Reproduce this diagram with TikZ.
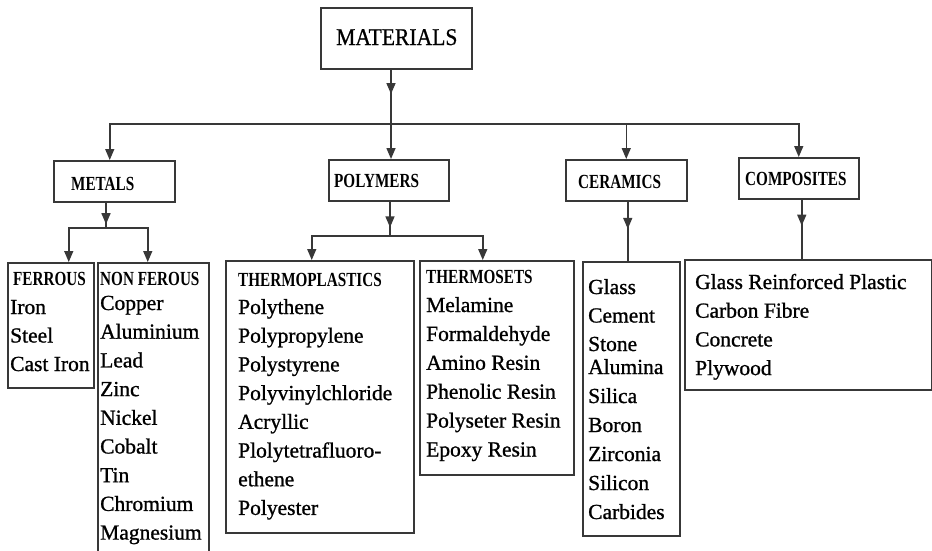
\documentclass[tikz,border=0pt]{standalone}
\usepackage{fontspec}
\setmainfont{Liberation Serif}
\newfontface\hdrface[FakeStretch=0.76]{Liberation Serif Bold}
\newfontface\topface[FakeStretch=0.9, FakeBold=0.8]{Liberation Serif}
\newfontface\itemface[FakeBold=1.0]{Liberation Serif}
\usetikzlibrary{arrows.meta,decorations.markings}
\definecolor{lineclr}{gray}{0.22}

\tikzset{
  ht/.tip={Triangle[width=9pt,length=11pt]},
  box/.style={draw=lineclr, line width=1.5pt, rectangle, inner sep=0pt, anchor=north west},
  conn/.style={draw=lineclr, line width=1.5pt},
  midarrow/.style={postaction={decorate},
    decoration={markings, mark=at position #1 with {\arrow[lineclr]{ht}}}},
  toptext/.style={anchor=base west, inner sep=0pt, font=\topface\fontsize{24}{28}\selectfont},
  hdr/.style={anchor=base west, inner sep=0pt, font=\hdrface\fontsize{20}{24}\selectfont},
  item/.style={anchor=base west, inner sep=0pt, font=\itemface\fontsize{21.5}{26}\selectfont},
}

\begin{document}
\begin{tikzpicture}[x=1pt, y=-1pt]
\useasboundingbox (0,0) rectangle (932,550);

% ---- boxes ----
\node[box, minimum width=151pt, minimum height=61pt] (mat) at (320,7) {};
\node[box, minimum width=121pt, minimum height=41pt] (metals) at (53,160) {};
\node[box, minimum width=120pt, minimum height=41pt] (polymers) at (328,159) {};
\node[box, minimum width=121pt, minimum height=41pt] (ceramics) at (565,159) {};
\node[box, minimum width=120pt, minimum height=41pt] (composites) at (738,157) {};

\node[box, minimum width=86pt, minimum height=125pt] (ferrous) at (7,262) {};
\node[box, minimum width=111pt, minimum height=300pt] (nonferrous) at (97,262) {};
\node[box, minimum width=188pt, minimum height=272pt] (thermoplastics) at (225,260) {};
\node[box, minimum width=154pt, minimum height=214pt] (thermosets) at (419,260) {};
\node[box, minimum width=97pt, minimum height=274pt] (ceramlist) at (582,261) {};
\node[box, minimum width=247pt, minimum height=130pt] (complist) at (684,259) {};

% ---- headings ----
\node[toptext] (mat-t) at (336,45) {MATERIALS};
\node[hdr] (metals-t) at (71,190) {METALS};
\node[hdr] (polymers-t) at (334,187) {POLYMERS};
\node[hdr] (ceramics-t) at (578,188) {CERAMICS};
\node[hdr] (composites-t) at (745,185) {COMPOSITES};
\node[hdr] (ferrous-t) at (13,285) {FERROUS};
\node[hdr] (nonferrous-t) at (100,285) {NON FEROUS};
\node[hdr] (thermoplastics-t) at (238,286) {THERMOPLASTICS};
\node[hdr] (thermosets-t) at (426,283) {THERMOSETS};

% ---- lists ----
\foreach \t [count=\i] in {Iron, Steel, Cast Iron}
  \node[item] (fe-\i) at (10, {314+(\i-1)*28.5}) {\t};
\foreach \t [count=\i] in {Copper, Aluminium, Lead, Zinc, Nickel, Cobalt, Tin, Chromium, Magnesium}
  \node[item] (nf-\i) at (100, {310+(\i-1)*28.7}) {\t};
\foreach \t [count=\i] in {Polythene, Polypropylene, Polystyrene, Polyvinylchloride, Acryllic, Plolytetrafluoro-, ethene, Polyester}
  \node[item] (tp-\i) at (238, {314+(\i-1)*28.7}) {\t};
\foreach \t [count=\i] in {Melamine, Formaldehyde, Amino Resin, Phenolic Resin, Polyseter Resin, Epoxy Resin}
  \node[item] (ts-\i) at (426, {312+(\i-1)*28.9}) {\t};
\foreach \t/\y [count=\i] in {Glass/294, Cement/322.5, Stone/351, Alumina/374, Silica/403, Boron/432, Zirconia/461, Silicon/490, Carbides/519}
  \node[item] (ce-\i) at (588, \y) {\t};
\foreach \t [count=\i] in {Glass Reinforced Plastic, Carbon Fibre, Concrete, Plywood}
  \node[item] (co-\i) at (695, {289+(\i-1)*28.7}) {\t};

% ---- connectors ----
\coordinate (bus) at (391,124);
\coordinate (msplit) at (106,228);
\coordinate (psplit) at (390,236);

\draw[conn, midarrow=0.45] (bus |- mat.south) -- (bus);
\draw[conn, -ht] (bus) -| ([xshift=-4.5pt]metals.north);
\draw[conn, -ht] (bus) -- (bus |- polymers.north);
\draw[conn, -ht] (bus) -| (ceramics.north);
\draw[conn, -ht] (bus) -| (composites.north);

\draw[conn, midarrow=0.85] (msplit |- metals.south) -- (msplit);
\draw[conn, -ht] (msplit) -| ([xshift=18pt]ferrous.north);
\draw[conn, -ht] (msplit) -| ([xshift=-5.5pt]nonferrous.north);

\draw[conn, midarrow=0.75] (psplit |- polymers.south) -- (psplit);
\draw[conn, -ht] (psplit) -| ([xshift=-8pt]thermoplastics.north);
\draw[conn, -ht] (psplit) -| ([xshift=-14pt]thermosets.north);

\draw[conn, midarrow=0.46] ([xshift=1.5pt]ceramics.south) -- ([xshift=1.5pt]ceramics.south |- ceramlist.north);
\draw[conn, midarrow=0.44] ([xshift=3pt]composites.south) -- ([xshift=3pt]composites.south |- complist.north);
\end{tikzpicture}
\end{document}
